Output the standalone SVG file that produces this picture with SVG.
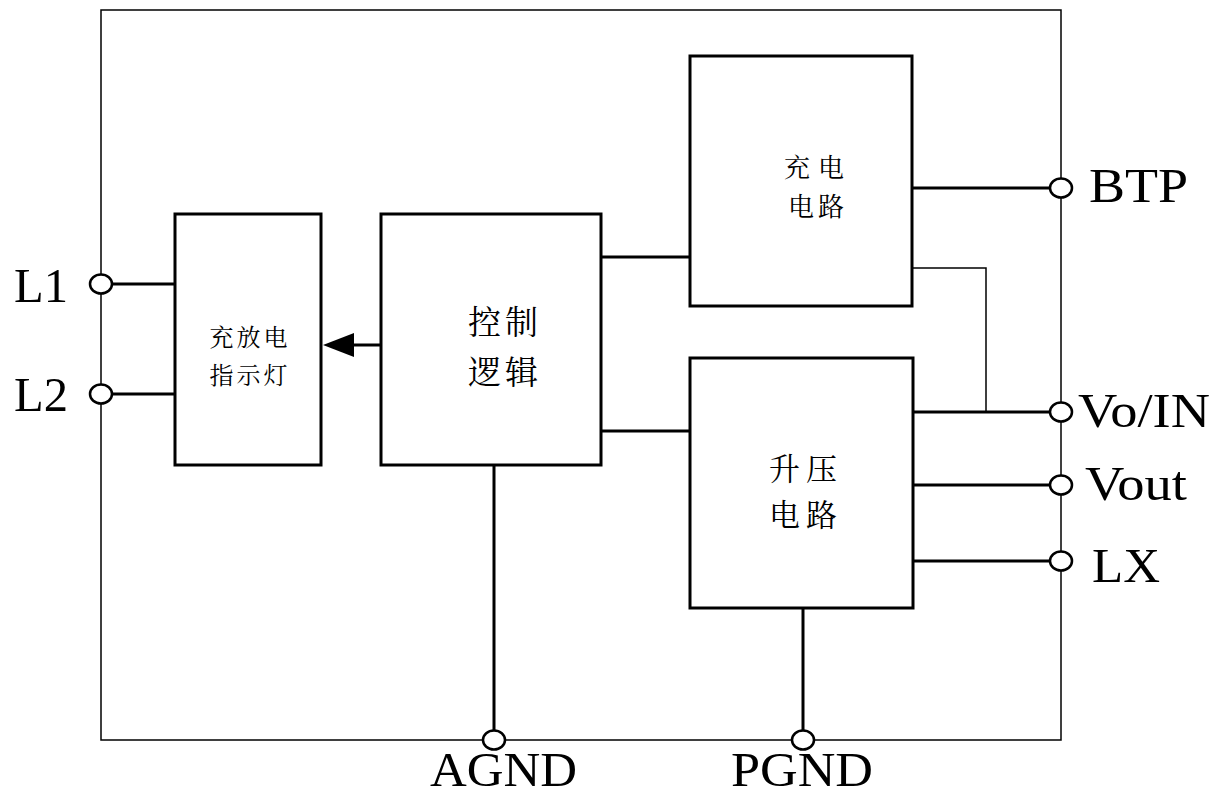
<svg xmlns="http://www.w3.org/2000/svg" width="1220" height="796" viewBox="0 0 1220 796">
<defs>
<style>
.blk{fill:#fff;stroke:#000;stroke-width:3}
.w{fill:none;stroke:#000;stroke-width:3}
.thin{fill:none;stroke:#000;stroke-width:1.5}
.pin{fill:#fff;stroke:#000;stroke-width:2.5}
.lat{font-family:"Liberation Serif","Times New Roman",serif;font-size:48px;fill:#000}
.cjk{font-family:"Noto Serif CJK SC","Noto Sans CJK SC",serif;fill:#000;text-anchor:middle}
</style>
</defs>
<rect x="0" y="0" width="1220" height="796" fill="#fff"/>
<rect id="chip" x="101" y="10" width="960" height="730" class="thin"/>
<g id="connectors">
<line x1="101" y1="284" x2="175" y2="284" class="w"/>
<line x1="101" y1="394" x2="175" y2="394" class="w"/>
<line x1="381" y1="345" x2="354" y2="345" class="w"/>
<path d="M354,333 L323,345 L354,357 Z" fill="#000"/>
<line x1="601" y1="257" x2="690" y2="257" class="w"/>
<line x1="601" y1="431" x2="690" y2="431" class="w"/>
<line x1="912" y1="188" x2="1061" y2="188" class="w"/>
<polyline points="912,268 986,268 986,412" class="thin"/>
<line x1="913" y1="412" x2="1061" y2="412" class="w"/>
<line x1="913" y1="485" x2="1061" y2="485" class="w"/>
<line x1="913" y1="561" x2="1061" y2="561" class="w"/>
<line x1="494" y1="465" x2="494" y2="740" class="w"/>
<line x1="803" y1="608" x2="803" y2="740" class="w"/>
</g>
<g id="indicator">
<rect x="175" y="214" width="146" height="251" class="blk"/>
<text class="cjk" font-size="24" x="250" y="346" letter-spacing="3">充放电</text>
<text class="cjk" font-size="24" x="250" y="384" letter-spacing="3">指示灯</text>
</g>
<g id="control">
<rect x="381" y="214" width="220" height="251" class="blk"/>
<text class="cjk" font-size="33" x="505" y="334" letter-spacing="4">控制</text>
<text class="cjk" font-size="33" x="505" y="384" letter-spacing="4">逻辑</text>
</g>
<g id="charge">
<rect x="690" y="56" width="222" height="250" class="blk"/>
<text class="cjk" font-size="26" x="818" y="177" letter-spacing="8">充电</text>
<text class="cjk" font-size="26" x="818" y="216" letter-spacing="4">电路</text>
</g>
<g id="boost">
<rect x="690" y="358" width="223" height="250" class="blk"/>
<text class="cjk" font-size="31" x="806" y="480" letter-spacing="6">升压</text>
<text class="cjk" font-size="31" x="806" y="526" letter-spacing="6">电路</text>
</g>
<g id="pins">
<ellipse cx="101" cy="284" rx="11" ry="9.5" class="pin"/>
<ellipse cx="101" cy="394" rx="11" ry="9.5" class="pin"/>
<ellipse cx="1061" cy="188" rx="11" ry="9.5" class="pin"/>
<ellipse cx="1061" cy="412" rx="11" ry="9.5" class="pin"/>
<ellipse cx="1061" cy="485" rx="11" ry="9.5" class="pin"/>
<ellipse cx="1061" cy="561" rx="11" ry="9.5" class="pin"/>
<ellipse cx="494" cy="740" rx="11" ry="9.5" class="pin"/>
<ellipse cx="803" cy="740" rx="11" ry="9.5" class="pin"/>
</g>
<g id="labels">
<text class="lat" x="14" y="302" textLength="54" lengthAdjust="spacingAndGlyphs">L1</text>
<text class="lat" x="14" y="411" textLength="54" lengthAdjust="spacingAndGlyphs">L2</text>
<text class="lat" x="1089" y="202" textLength="99" lengthAdjust="spacingAndGlyphs">BTP</text>
<text class="lat" x="1078" y="427" textLength="132" lengthAdjust="spacingAndGlyphs">Vo/IN</text>
<text class="lat" x="1085" y="500" textLength="102" lengthAdjust="spacingAndGlyphs">Vout</text>
<text class="lat" x="1092" y="582" textLength="68" lengthAdjust="spacingAndGlyphs">LX</text>
<text class="lat" x="430" y="786" textLength="147" lengthAdjust="spacingAndGlyphs">AGND</text>
<text class="lat" x="731" y="786" textLength="142" lengthAdjust="spacingAndGlyphs">PGND</text>
</g>
</svg>
